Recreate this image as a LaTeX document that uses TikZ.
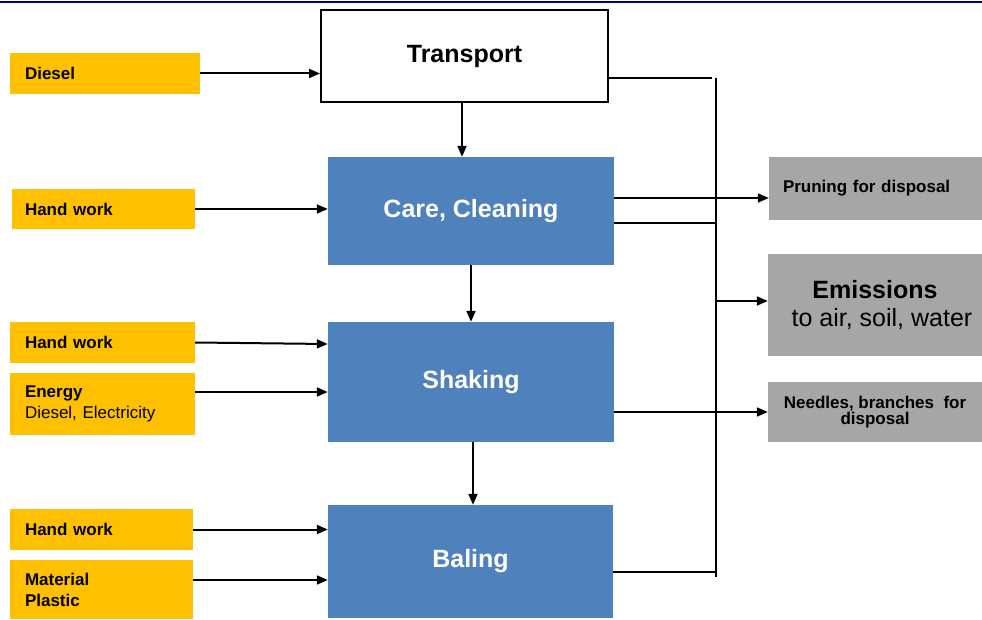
\documentclass[tikz,border=0pt]{standalone}
\usepackage{fontspec}
\setmainfont{Liberation Sans}
\usetikzlibrary{arrows.meta}
\definecolor{inyellow}{HTML}{FFC000}
\definecolor{stepblue}{HTML}{4F81BD}
\definecolor{outgray}{HTML}{A6A6A6}
\definecolor{topnavy}{HTML}{000080}
\tikzset{
  inbox/.style={fill=inyellow,inner sep=0pt,align=left,font=\fontsize{17}{21}\selectfont\bfseries},
  stepbox/.style={fill=stepblue,inner sep=0pt,text=white,font=\fontsize{25}{30}\selectfont\bfseries},
  outbox/.style={fill=outgray,inner sep=0pt,align=center,font=\fontsize{17}{16}\selectfont\bfseries},
  flow/.style={line width=2pt,-{Triangle[length=11pt,width=9pt]}},
  busline/.style={line width=2pt}
}
\begin{document}
\begin{tikzpicture}[x=1pt,y=-1pt]
\useasboundingbox (0,0) rectangle (982,620);
\draw[topnavy,line width=2.5pt] (0,2) -- (982,2);
% process steps
\node[draw=black,fill=white,line width=2pt,inner sep=0pt,minimum width=287pt,minimum height=92pt,font=\fontsize{25}{30}\selectfont\bfseries] (transport) at (464.5,56) {Transport};
\node[stepbox,minimum width=286pt,minimum height=108pt] (care) at (471,211) {Care, Cleaning};
\node[stepbox,minimum width=286pt,minimum height=120pt] (shaking) at (471,382) {Shaking};
\node[stepbox,minimum width=285pt,minimum height=113pt] (baling) at (470.5,561.5) {Baling};
% inputs
\node[inbox,minimum width=190pt,minimum height=41pt,text width=160pt] (diesel) at (105,73.5) {Diesel};
\node[inbox,minimum width=183pt,minimum height=40pt,text width=157pt] (handA) at (103.5,209) {Hand work};
\node[inbox,minimum width=185pt,minimum height=41pt,text width=155pt] (handB) at (102.5,342.5) {Hand work};
\node[inbox,minimum width=185pt,minimum height=62pt,text width=155pt] (energy) at (102.5,404) {Energy\\\mdseries Diesel, Electricity};
\node[inbox,minimum width=183pt,minimum height=41pt,text width=153pt] (handC) at (101.5,529.5) {Hand work};
\node[inbox,minimum width=183pt,minimum height=59pt,text width=153pt] (material) at (101.5,589.5) {Material\\Plastic};
% outputs
\node[outbox,align=left,minimum width=213pt,minimum height=63pt,text width=185pt] (pruning) at (875.5,188.5) {Pruning for disposal};
\node[outbox,minimum width=214pt,minimum height=102pt,font=\fontsize{25}{28}\selectfont] (emissions) at (875,305) {\textbf{Emissions}\\\ \ to air, soil, water};
\node[outbox,minimum width=214pt,minimum height=60pt] (needles) at (875,412) {Needles, branches\ \ for\\disposal};
% collecting line
\coordinate (bustop) at (716,78);
\coordinate (busbot) at (716,577);
\draw[busline] (bustop) -- (busbot);
% connectors
\draw[flow] (diesel.east) -- (diesel.east -| transport.west);
\draw[flow] (transport.south -| 462,0) -- (care.north -| 462,0);
\draw[flow] (care.south) -- (shaking.north);
\draw[flow] (shaking.south -| 473,0) -- (baling.north -| 473,0);
\draw[flow] (handA.east) -- (handA.east -| care.west);
\draw[flow] (handB.east) -- ([yshift=-1.5pt]handB.east -| shaking.west);
\draw[flow] ([yshift=12pt]energy.east) -- ([yshift=12pt]energy.east -| shaking.west);
\draw[flow] (handC.east) -- (handC.east -| baling.west);
\draw[flow] ([yshift=9.5pt]material.east) -- ([yshift=9.5pt]material.east -| baling.west);
\draw[busline] (bustop -| transport.east) -- ([xshift=-4pt]bustop);
\draw[flow] ([yshift=13pt]care.east) -- ([yshift=13pt]care.east -| pruning.west);
\draw[busline] ([yshift=-12pt]care.east) -- ([yshift=-12pt]care.east -| bustop);
\draw[flow] ([yshift=4pt]emissions.west -| bustop) -- ([yshift=4pt]emissions.west);
\draw[flow] (needles.west -| shaking.east) -- (needles.west);
\draw[busline] ([yshift=-10.5pt]baling.east) -- ([yshift=-10.5pt]baling.east -| bustop);
\end{tikzpicture}
\end{document}
